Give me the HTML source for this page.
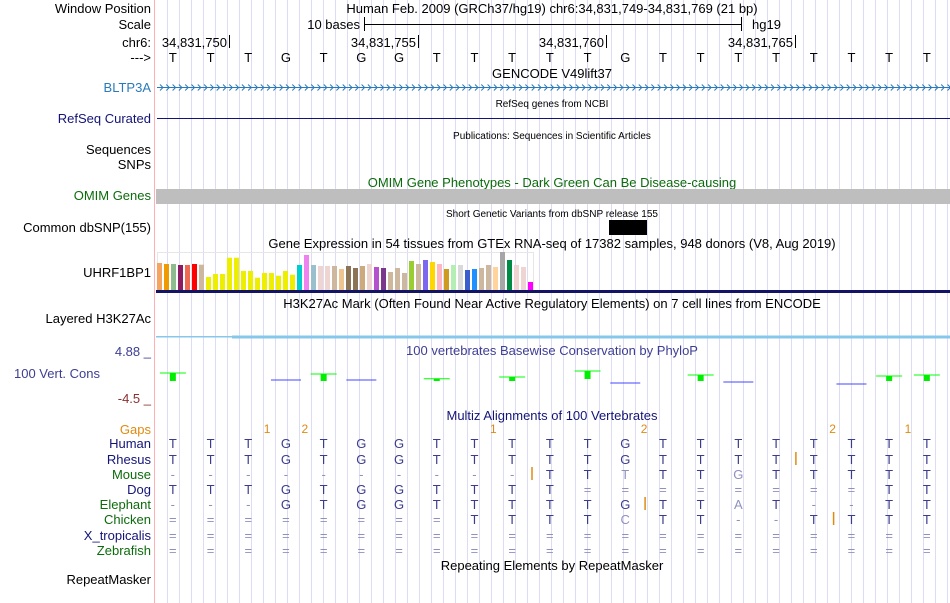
<!DOCTYPE html>
<html><head><meta charset="utf-8"><style>
html,body{margin:0;padding:0;background:#fff;}
svg{display:block;font-family:"Liberation Sans",sans-serif;}
</style></head><body>
<svg id="c" width="950" height="603" viewBox="0 0 950 603" xmlns="http://www.w3.org/2000/svg">
<g id="guides"></g>
<line x1="154.5" y1="0" x2="154.5" y2="603" stroke="#ffb0b0"/>
<g font-size="13" fill="#000" text-anchor="end">
<text x="151" y="13">Window Position</text>
<text x="151" y="29">Scale</text>
<text x="151" y="47">chr6:</text>
<text x="151" y="62">---&gt;</text>
<text x="151" y="92" fill="#2a7ab9">BLTP3A</text>
<text x="151" y="123" fill="#141478">RefSeq Curated</text>
<text x="151" y="154">Sequences</text>
<text x="151" y="169">SNPs</text>
<text x="151" y="200" fill="#0c6b0c">OMIM Genes</text>
<text x="151" y="232">Common dbSNP(155)</text>
<text x="151" y="277">UHRF1BP1</text>
<text x="151" y="323">Layered H3K27Ac</text>
<text x="151" y="356" fill="#3e3e94">4.88 _</text>
<text x="100" y="378" fill="#3e3e94">100 Vert. Cons</text>
<text x="151" y="403" fill="#8b3030">-4.5 _</text>
<text x="151" y="434" fill="#e08a10">Gaps</text>
<text x="151" y="448" fill="#141478">Human</text>
<text x="151" y="464" fill="#141478">Rhesus</text>
<text x="151" y="479" fill="#0c6b0c">Mouse</text>
<text x="151" y="494" fill="#141478">Dog</text>
<text x="151" y="509" fill="#0c6b0c">Elephant</text>
<text x="151" y="524" fill="#0c6b0c">Chicken</text>
<text x="151" y="540" fill="#141478">X_tropicalis</text>
<text x="151" y="555" fill="#0c6b0c">Zebrafish</text>
<text x="151" y="584">RepeatMasker</text>
</g>
<g font-size="13" fill="#000" text-anchor="middle">
<text x="552" y="13">Human Feb. 2009 (GRCh37/hg19)   chr6:34,831,749-34,831,769 (21 bp)</text>
<text x="552" y="78">GENCODE V49lift37</text>
<text x="552" y="107" font-size="10">RefSeq genes from NCBI</text>
<text x="552" y="139" font-size="10">Publications: Sequences in Scientific Articles</text>
<text x="552" y="187" fill="#0c6b0c">OMIM Gene Phenotypes - Dark Green Can Be Disease-causing</text>
<text x="552" y="217" font-size="10">Short Genetic Variants from dbSNP release 155</text>
<text x="552" y="248">Gene Expression in 54 tissues from GTEx RNA-seq of 17382 samples, 948 donors (V8, Aug 2019)</text>
<text x="552" y="308">H3K27Ac Mark (Often Found Near Active Regulatory Elements) on 7 cell lines from ENCODE</text>
<text x="552" y="355" fill="#3e3e94">100 vertebrates Basewise Conservation by PhyloP</text>
<text x="552" y="420" fill="#141478">Multiz Alignments of 100 Vertebrates</text>
<text x="552" y="570">Repeating Elements by RepeatMasker</text>
</g>
<g>
<text x="360" y="29" font-size="13" text-anchor="end">10 bases</text>
<line x1="364.5" y1="17" x2="364.5" y2="31" stroke="#000"/>
<line x1="741.5" y1="17" x2="741.5" y2="31" stroke="#000"/>
<line x1="364" y1="24.5" x2="742" y2="24.5" stroke="#000"/>
<text x="752" y="29" font-size="13">hg19</text>
</g>
<g id="coords" font-size="13"></g>
<g id="bases" font-size="13" text-anchor="middle"></g>
<g id="gene"></g>
<line x1="157" y1="118.5" x2="950" y2="118.5" stroke="#141478"/>
<rect x="156" y="189" width="794" height="15" fill="#bebebe"/>
<rect x="609" y="220" width="38" height="15" fill="#000"/>
<rect x="157.5" y="252.5" width="376" height="38" fill="none" stroke="#e6e6e6"/>
<g id="gtex"></g>
<rect x="156" y="290" width="794" height="3" fill="#141464"/>
<rect x="156" y="336" width="794" height="1.5" fill="#87c8ea"/>
<rect x="232" y="335.5" width="718" height="3" fill="#87c8ea"/>
<g id="phylop"></g>
<g id="gaps" font-size="12" fill="#e08a10" text-anchor="middle"></g>
<g id="aln" font-size="13" text-anchor="middle"></g>
</svg>
<script>
const NS="http://www.w3.org/2000/svg";
const refBases=["T","T","T","G","T","G","G","T","T","T","T","T","G","T","T","T","T","T","T","T","T"];
const coordLabels=["34,831,750","34,831,755","34,831,760","34,831,765"];
const coordBaseIdx=[1,6,11,16];
const gtexValues=[27,26,26,25,25,26,25.3,13,16,16,32.3,32.3,19,19,12.3,17,17,14.3,19,15.3,25,35,25,24,24,24,21,24,22,24,26,23,22,18,22,17,29,26,30,28,26,21,25,25,20,21,22,25,23,38,30,25,23,8];
const gtexColors=["#f4a460","#ee9a00","#8fbc8f","#8b1c62","#ee6a50","#ff0000","#cdb79e","#eeee00","#eeee00","#eeee00","#eeee00","#eeee00","#eeee00","#eeee00","#eeee00","#eeee00","#eeee00","#eeee00","#eeee00","#eeee00","#00cdcd","#ee82ee","#9ac0cd","#eed5d2","#eed5d2","#cdb79e","#eec591","#8b7355","#8b7355","#cdaa7d","#eed5d2","#b452cd","#7a378b","#cdb79e","#cdb79e","#cdb79e","#9acd32","#cdb79e","#7b68ee","#ffd700","#ffb6c1","#cd9b1d","#b4eeb4","#d9d9d9","#3a5fcd","#1e90ff","#cdb79e","#cdb79e","#ffd39b","#a6a6a6","#008b45","#eed5d2","#eed5d2","#ff00ff"];
const phylopIdx=[0,3,4,5,7,9,11,12,14,15,18,19,20];
const phylopValues=[0.19,-1.12,0.0,-1.12,-0.9,-0.56,0.57,-1.69,-0.19,-1.5,-1.87,-0.37,-0.19];
const gapIdx=[3,4,9,13,18,20];
const gapLabels=["1","2","1","2","2","1"];
const species=["Human","Rhesus","Mouse","Dog","Elephant","Chicken","X_tropicalis","Zebrafish"];
const alnRows=[
"TTTGTGGTTTTTGTTTTTTTT",
"TTTGTGGTTTTTGTTTTTTTT",
"----------TTtTTgTTTTT",
"TTTGTGGTTTT========TT",
"---GTGGTTTTTGTTaT--TT",
"========TTTTcTT--TTTT",
"=====================",
"====================="];
const insertRow=[1,2,4,5];
const insertIdx=[17,10,13,18];
const x0=154,step=37.7;
function bx(i){return x0+step*(i+0.5);}
function mk(tag,attrs,parent){const e=document.createElementNS(NS,tag);for(const k in attrs)e.setAttribute(k,attrs[k]);parent.appendChild(e);return e;}
const G=document.getElementById('guides');
for(let x=167;x<950;x+=12){const l=mk('line',{x1:x+.5,y1:0,x2:x+.5,y2:603,stroke:'#dcdcf4'},G);

}
const C=document.getElementById('coords');
coordLabels.forEach((s,k)=>{const tx=Math.round(x0+step*(coordBaseIdx[k]+1));
const t=mk('text',{x:tx-2,y:47,'text-anchor':'end'},C);t.textContent=s;


const l=mk('line',{x1:tx+.5,y1:35,x2:tx+.5,y2:48,stroke:'#000'},C);

});
const B=document.getElementById('bases');
refBases.forEach((b,i)=>{const t=mk('text',{x:bx(i),y:62},B);t.textContent=b;

});
const GN=document.getElementById('gene');
mk('line',{x1:157,y1:87.5,x2:950,y2:87.5,stroke:'#2a7ab9'},GN);
let d='';for(let x=160;x<948;x+=6.3){d+=`M${x.toFixed(1)} 84.5L${(x+3).toFixed(1)} 87.5L${x.toFixed(1)} 90.5`;}
const p=mk('path',{d:d,stroke:'#2a7ab9',fill:'none','stroke-width':'1'},GN);


const GT=document.getElementById('gtex');
const gBase=290,gScale=1;
gtexValues.forEach((v,i)=>{const h=v*gScale;const r=mk('rect',{x:157+i*7,y:gBase-h,width:5,height:h,fill:gtexColors[i]},GT);

});
const P=document.getElementById('phylop');
function py(v){return 348+(4.88-v)/(4.88+4.5)*50;}
phylopIdx.forEach((i,k)=>{const v=phylopValues[k];const y=py(v);const cx=bx(i);
if(v>-1){const l=mk('line',{x1:cx-13,y1:y,x2:cx+13,y2:y,stroke:'#00ff00'},P);


const h=Math.max(2,Math.min(8,381-y));
const r=mk('rect',{x:cx-3,y:y,width:6,height:h,fill:'#00ee00'},P);

}
else{const l=mk('line',{x1:cx-15,y1:y,x2:cx+15,y2:y,stroke:'#4444ff'},P);

}});
const GP=document.getElementById('gaps');
gapIdx.forEach((i,k)=>{const t=mk('text',{x:x0+step*i,y:433},GP);t.textContent=gapLabels[k];

});
const A=document.getElementById('aln');
const rowY=[448,464,479,494,509,524,540,555];
alnRows.forEach((row,r)=>{[...row].forEach((ch,i)=>{let fill='#3c3c8c',txt=ch;
if(ch==='-'||ch==='='){fill='#9090c0';}
if(ch!==ch.toUpperCase()){fill='#9090c0';txt=ch.toUpperCase();}
const t=mk('text',{x:bx(i),y:rowY[r],fill:fill},A);t.textContent=txt;

});});
insertRow.forEach((r,k)=>{const x=x0+step*insertIdx[k]+1;const l=mk('line',{x1:x,y1:rowY[r]-12,x2:x,y2:rowY[r]+1,stroke:'#e08a10','stroke-width':1.5},A);

});
</script>
</body></html>
